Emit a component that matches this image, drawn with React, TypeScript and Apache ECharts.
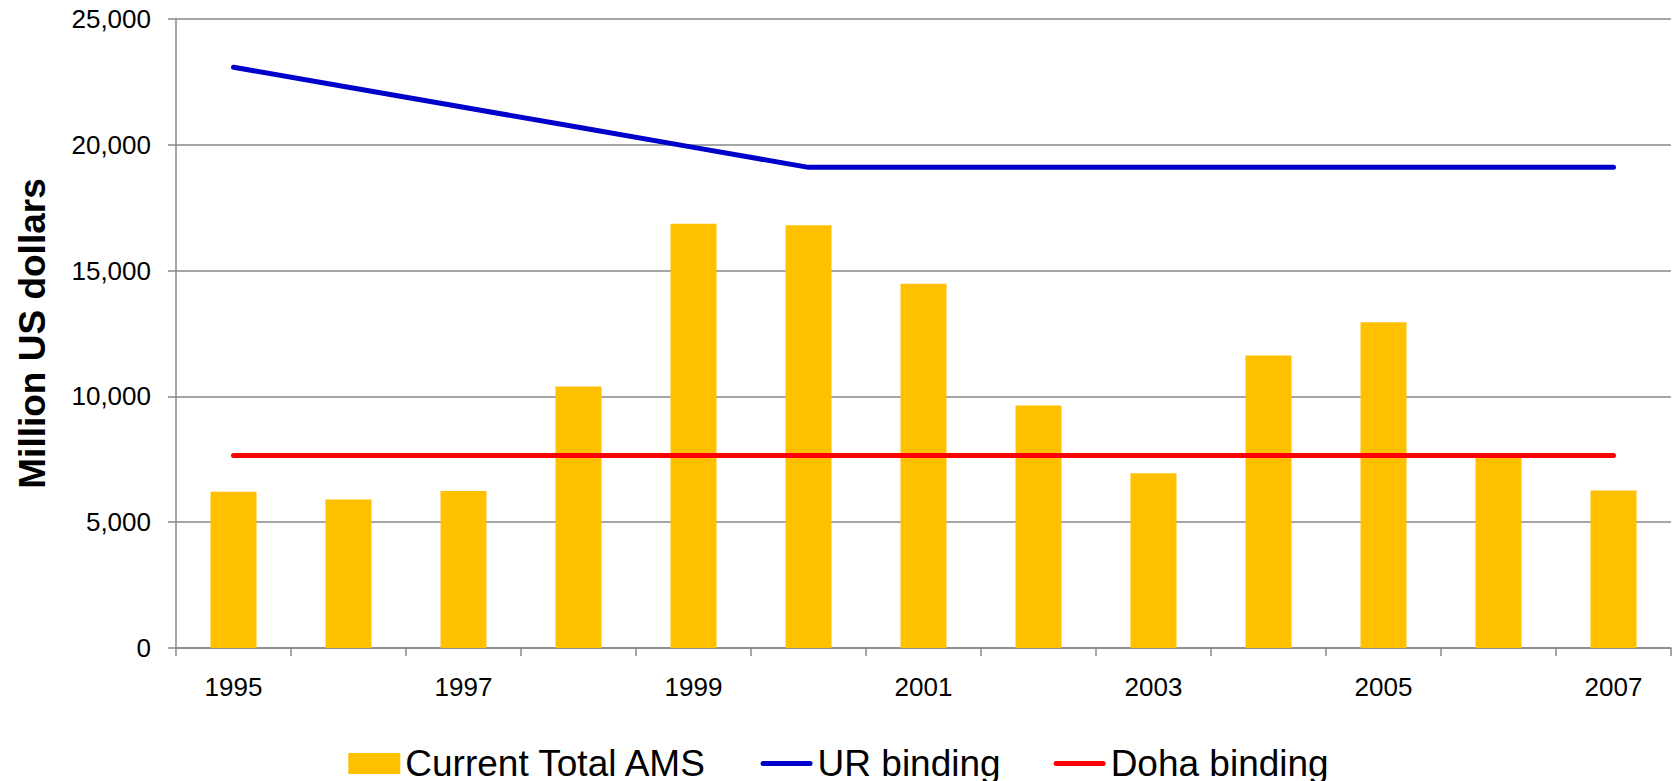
import React, { useEffect, useRef } from "react";
import * as echarts from "echarts";

const years = ["1995","1996","1997","1998","1999","2000","2001","2002","2003","2004","2005","2006","2007"];
const currentTotalAMS = [6214, 5898, 6238, 10392, 16862, 16803, 14482, 9637, 6950, 11629, 12943, 7700, 6260];
const urBinding = [23083, 22287, 21491, 20695, 19899, 19103, 19103, 19103, 19103, 19103, 19103, 19103, 19103];
const dohaBinding = [7650, 7650, 7650, 7650, 7650, 7650, 7650, 7650, 7650, 7650, 7650, 7650, 7650];
const yTicks = { min: 0, max: 25000, interval: 5000 };

const FONT = "'Liberation Sans', Arial, sans-serif";
const LINE_ICON = "path://M2.5,0H49.5A2.5,2.5,0,0,1,49.5,5H2.5A2.5,2.5,0,0,1,2.5,0Z";

export default function App() {
  const ref = useRef<HTMLDivElement>(null);
  useEffect(() => {
    document.body.style.margin = "0";
    const chart = echarts.init(ref.current!, null, { renderer: "svg" });
    chart.setOption({
      animation: false,
      backgroundColor: "#ffffff",
      textStyle: { fontFamily: FONT },
      grid: { left: 176, right: 6, top: 19, bottom: 133 },
      legend: {
        top: 740,
        left: "center",
        itemGap: 53,
        itemWidth: 52,
        itemHeight: 21,
        symbolKeepAspect: true,
        textStyle: { fontSize: 37, color: "#000", fontFamily: FONT },
        data: [
          { name: "Current Total AMS", icon: "rect" },
          { name: "UR binding", icon: LINE_ICON },
          { name: "Doha binding", icon: LINE_ICON },
        ],
      },
      xAxis: {
        type: "category",
        data: years,
        boundaryGap: true,
        axisLine: { lineStyle: { color: "#898989", width: 1.5 } },
        axisTick: { show: true, length: 8, alignWithLabel: false, interval: 0, lineStyle: { color: "#898989", width: 1.5 } },
        axisLabel: { interval: 1, fontSize: 26, color: "#000", margin: 26, fontFamily: FONT },
        splitLine: { show: false },
      },
      yAxis: {
        type: "value",
        min: yTicks.min,
        max: yTicks.max,
        interval: yTicks.interval,
        name: "Million US dollars",
        nameLocation: "middle",
        nameGap: 125,
        nameRotate: 90,
        nameTextStyle: { fontSize: 37, fontWeight: "bold", color: "#000", fontFamily: FONT },
        axisLine: { show: true, lineStyle: { color: "#898989", width: 1.5 } },
        axisTick: { show: true, length: 8, lineStyle: { color: "#898989", width: 1.5 } },
        axisLabel: {
          fontSize: 26,
          color: "#000",
          margin: 25,
          fontFamily: FONT,
          formatter: (v: number) => v.toLocaleString("en-US"),
        },
        splitLine: { show: true, lineStyle: { color: "#898989", width: 1.5 } },
      },
      series: [
        {
          name: "Current Total AMS",
          type: "bar",
          data: currentTotalAMS,
          barWidth: 46,
          itemStyle: { color: "#FFC000" },
        },
        {
          name: "UR binding",
          type: "line",
          data: urBinding,
          symbol: "none",
          showSymbol: false,
          itemStyle: { color: "#0000CC" },
          lineStyle: { color: "#0000CC", width: 5, cap: "round", join: "round" },
        },
        {
          name: "Doha binding",
          type: "line",
          data: dohaBinding,
          symbol: "none",
          showSymbol: false,
          itemStyle: { color: "#FF0000" },
          lineStyle: { color: "#FF0000", width: 5, cap: "round", join: "round" },
        },
      ],
    });
    return () => chart.dispose();
  }, []);
  return (
    <div
      ref={ref}
      style={{ position: "absolute", left: 0, top: 0, width: 1677, height: 781 }}
    />
  );
}
